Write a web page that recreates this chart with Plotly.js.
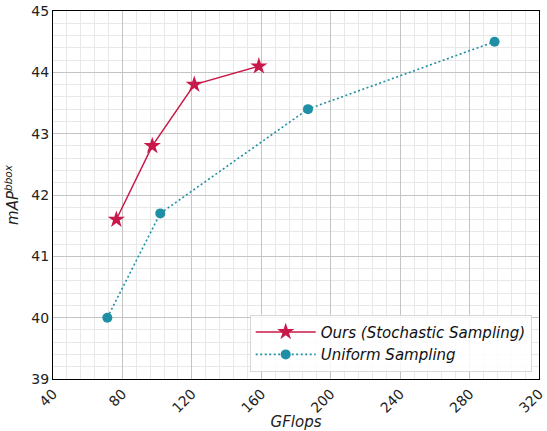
<!DOCTYPE html>
<html><head><meta charset="utf-8">
<script src="https://cdn.plot.ly/plotly-3.0.1.min.js"></script>
<style>html,body{margin:0;padding:0;background:#fff}#chart{width:547px;height:431px}</style>
</head><body><div id="chart"></div>
<script>
const oursGflops = [76.5, 97.2, 121.4, 158.6];
const oursMap = [41.6, 42.8, 43.8, 44.1];
const uniGflops = [71.3, 101.8, 186.9, 294.4];
const uniMap = [40.0, 41.7, 43.4, 44.5];
const xTicks = [40, 80, 120, 160, 200, 240, 280, 320];
const yTicks = [39, 40, 41, 42, 43, 44, 45];
const seriesNames = ["Ours (Stochastic Sampling)", "Uniform Sampling"];

const F = "DejaVu Sans, sans-serif";
const traces = [
  {x: oursGflops, y: oursMap, name: seriesNames[0], mode: "lines+markers",
   line: {color: "#c9184a", width: 1.5},
   marker: {symbol: "star", size: 13, color: "#c9184a"}},
  {x: uniGflops, y: uniMap, name: seriesNames[1], mode: "lines+markers",
   line: {color: "#1f8fa5", width: 1.6, dash: "2px,2.5px"},
   marker: {symbol: "circle", size: 10, color: "#1f8fa5"}}
];
const layout = {
  width: 547, height: 431,
  margin: {l: 52.5, r: 7.5, t: 11, b: 52},
  paper_bgcolor: "#fff", plot_bgcolor: "#fff",
  font: {family: F, size: 14, color: "#222"},
  showlegend: true,
  xaxis: {range: [40, 320], tickvals: xTicks, ticktext: xTicks.map(String), tickangle: -45,
    showline: true, linecolor: "#000", linewidth: 1.3, mirror: true,
    gridcolor: "#c4c4c4", gridwidth: 1, zeroline: false, ticks: "",
    tickfont: {size: 14, family: F, color: "#222"},
    minor: {dtick: 8, showgrid: true, gridcolor: "#e8e8e8", gridwidth: 1},
    title: {text: "<i>GFlops</i>", font: {size: 15, family: F}, standoff: 4}},
  yaxis: {range: [39, 45], tickvals: yTicks, ticktext: yTicks.map(String),
    showline: true, linecolor: "#000", linewidth: 1.3, mirror: true,
    gridcolor: "#c4c4c4", gridwidth: 1, zeroline: false, ticks: "",
    tickfont: {size: 14, family: F, color: "#222"},
    minor: {dtick: 0.2, showgrid: true, gridcolor: "#e8e8e8", gridwidth: 1},
    title: {text: "<i>mAP<sup>bbox</sup></i>", font: {size: 15, family: F}, standoff: 8}},
  legend: {x: 0.985, y: 0.02, xanchor: "right", yanchor: "bottom",
    bgcolor: "rgba(255,255,255,0.85)", bordercolor: "#d8d8d8", borderwidth: 1,
    font: {size: 15, family: F, color: "#111", style: "italic"}, itemwidth: 60,
    tracegroupgap: 0}
};
Plotly.newPlot("chart", traces, layout, {displayModeBar: false});
</script></body></html>
